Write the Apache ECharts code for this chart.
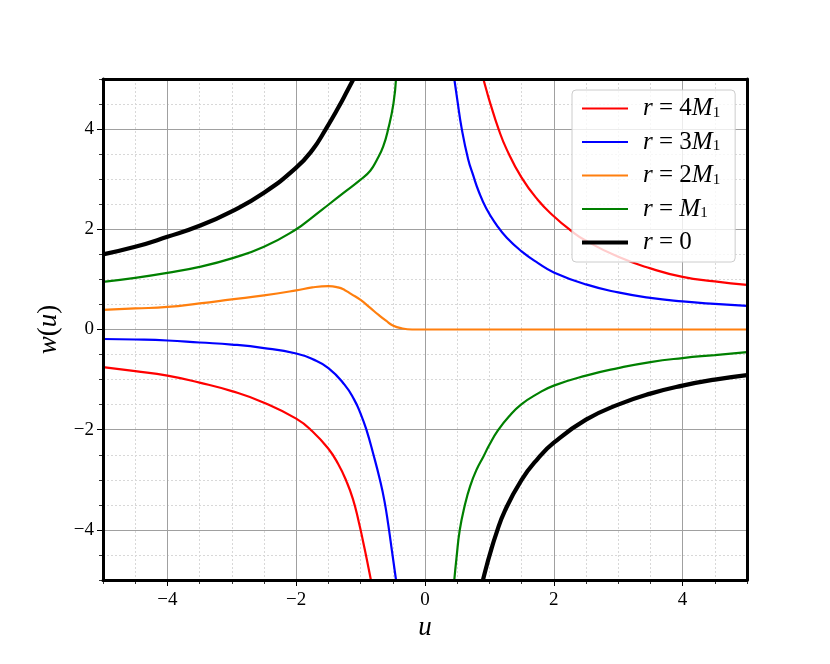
<!DOCTYPE html>
<html><head><meta charset="utf-8">
<script src="https://cdn.jsdelivr.net/npm/echarts@6/dist/echarts.min.js"></script>
<style>html,body{margin:0;padding:0;background:#fff}#c{width:830px;height:664px}</style>
</head><body><div id="c"></div>
<script>
// ---- data ----
const xMajorTicks = [-4, -2, 0, 2, 4];
const yMajorTicks = [-4, -2, 0, 2, 4];

// r = 4M1 (red)
const red_left = [[-5,-0.75],[-4.5,-0.83],[-4,-0.92],[-3.5,-1.06],[-3,-1.23],[-2.5,-1.46],[-2,-1.78],[-1.75,-2.03],[-1.5,-2.38],[-1.35,-2.68],[-1.22,-3.03],[-1.12,-3.38],[-1.03,-3.83],[-0.96,-4.24],[-0.9,-4.61],[-0.84,-5]];
const red_right = [[0.906,5],[0.96,4.75],[1.01,4.53],[1.14,4.01],[1.27,3.59],[1.5,3.03],[1.75,2.59],[2,2.26],[2.25,1.99],[2.5,1.77],[3,1.45],[3.5,1.22],[4,1.05],[4.5,0.96],[5,0.89]];
// r = 3M1 (blue)
const blue_left = [[-5,-0.19],[-4.5,-0.2],[-4,-0.22],[-3.5,-0.26],[-3,-0.3],[-2.5,-0.37],[-2,-0.48],[-1.75,-0.59],[-1.5,-0.77],[-1.25,-1.1],[-1.1,-1.4],[-1,-1.68],[-0.91,-2.0],[-0.8,-2.5],[-0.7,-3.0],[-0.63,-3.42],[-0.57,-3.9],[-0.51,-4.45],[-0.45,-5]];
const blue_right = [[0.455,5],[0.5,4.6],[0.57,4.01],[0.67,3.4],[0.75,3.07],[0.83,2.77],[0.95,2.42],[1.11,2.09],[1.27,1.83],[1.5,1.56],[1.75,1.33],[2,1.14],[2.5,0.9],[3,0.74],[3.5,0.63],[4,0.56],[4.5,0.51],[5,0.47]];
// r = 2M1 (orange)
const orange_all = [[-5,0.39],[-4.5,0.42],[-4,0.45],[-3.5,0.52],[-3,0.6],[-2.5,0.68],[-2,0.78],[-1.75,0.84],[-1.5,0.865],[-1.35,0.84],[-1.25,0.79],[-1.15,0.71],[-1,0.59],[-0.85,0.43],[-0.72,0.29],[-0.6,0.17],[-0.5,0.08],[-0.35,0.02],[-0.2,0],[0,0],[2,0],[5,0]];
// r = M1 (green)
const green_left = [[-5,0.95],[-4.5,1.03],[-4,1.13],[-3.5,1.25],[-3,1.42],[-2.5,1.65],[-2,2.0],[-1.75,2.24],[-1.5,2.49],[-1.25,2.74],[-1,2.99],[-0.85,3.17],[-0.75,3.38],[-0.65,3.65],[-0.57,4.01],[-0.49,4.51],[-0.45,5]];
const green_right = [[0.455,-5],[0.49,-4.55],[0.54,-4.0],[0.62,-3.5],[0.7,-3.13],[0.8,-2.8],[0.91,-2.53],[1.0,-2.3],[1.14,-2.0],[1.3,-1.74],[1.5,-1.49],[1.75,-1.28],[2,-1.12],[2.5,-0.92],[3,-0.77],[3.5,-0.65],[4,-0.57],[4.5,-0.51],[5,-0.45]];
// r = 0 (black)
const black_left = [[-5,1.5],[-4.5,1.65],[-4,1.85],[-3.5,2.07],[-3,2.36],[-2.5,2.73],[-2,3.23],[-1.75,3.58],[-1.54,4.0],[-1.35,4.42],[-1.2,4.78],[-1.11,5]];
const black_right = [[0.9,-5],[0.95,-4.75],[1.0,-4.52],[1.1,-4.1],[1.24,-3.62],[1.5,-3.0],[1.75,-2.58],[2,-2.26],[2.5,-1.8],[3,-1.5],[3.5,-1.28],[4,-1.12],[4.5,-1.0],[5,-0.91]];

const legendNames = ['r4', 'r3', 'r2', 'r1', 'r0'];
const legendLabels = {
  r4: '{g| }{i|r}{n| = 4}{i|M}{s|1}',
  r3: '{g| }{i|r}{n| = 3}{i|M}{s|1}',
  r2: '{g| }{i|r}{n| = 2}{i|M}{s|1}',
  r1: '{g| }{i|r}{n| = }{i|M}{s|1}',
  r0: '{g| }{i|r}{n| = 0}'
};

// ---- chart ----
const SERIF = '"Liberation Serif", "DejaVu Serif", serif';
const fmt = v => (v < 0 ? '\u2212' + (-v) : String(v));
const ICON_THIN = 'path://M0,0h46v2h-46z';
const ICON_THICK = 'path://M0,0h46v4h-46z';

function line(name, data, color, width) {
  return {
    type: 'line', name, data, xAxisIndex: 0, yAxisIndex: 0,
    showSymbol: false, symbol: 'none', smooth: 0.5,
    clip: true, animation: false, silent: true,
    lineStyle: { color, width, cap: 'butt', join: 'round' }, itemStyle: { color },
    emphasis: { disabled: true }, z: 3
  };
}

const frameLine = { show: true, onZero: false, lineStyle: { color: '#000', width: 3 } };
const off = { show: false };

const option = {
  animation: false,
  backgroundColor: '#fff',
  grid: { left: 103, right: 83, top: 79, bottom: 84, containLabel: false },
  xAxis: [
    { type: 'value', min: -5, max: 5, position: 'bottom', z: 1,
      axisLine: { show: false, onZero: false },
      axisTick: { show: true, customValues: xMajorTicks, length: 6, lineStyle: { color: '#000', width: 1 } },
      axisLabel: { customValues: xMajorTicks, formatter: fmt, fontFamily: SERIF, fontSize: 19, color: '#000', margin: 11 },
      splitLine: { show: true, lineStyle: { color: '#a0a0a0', width: 1 } },
      name: '{i|u}', nameLocation: 'middle', nameGap: 32,
      nameTextStyle: { rich: { i: { fontFamily: SERIF, fontStyle: 'italic', fontSize: 27, color: '#000' } } }
    },
    { type: 'value', min: -5, max: 5, interval: 0.5, position: 'bottom', z: 0,
      axisLine: { show: false, onZero: false },
      axisTick: { show: true, length: 4, lineStyle: { color: '#000', width: 0.8 } },
      axisLabel: off,
      splitLine: { show: true, lineStyle: { color: '#d8d8d8', width: 1, type: [2, 2] } }
    },
    { type: 'value', min: -5, max: 5, position: 'top', z: 6,
      axisLine: frameLine, axisTick: off, axisLabel: off, splitLine: off },
    { type: 'value', min: -5, max: 5, position: 'bottom', z: 6,
      axisLine: frameLine, axisTick: off, axisLabel: off, splitLine: off }
  ],
  yAxis: [
    { type: 'value', min: -5, max: 5, position: 'left', z: 1,
      axisLine: { show: false, onZero: false },
      axisTick: { show: true, customValues: yMajorTicks, length: 6, lineStyle: { color: '#000', width: 1 } },
      axisLabel: { customValues: yMajorTicks, formatter: fmt, fontFamily: SERIF, fontSize: 19, color: '#000', margin: 9 },
      splitLine: { show: true, lineStyle: { color: '#a0a0a0', width: 1 } },
      name: '{i|w}{n|(}{i|u}{n|)}', nameLocation: 'middle', nameGap: 40, nameRotate: 90,
      nameTextStyle: { rich: {
        i: { fontFamily: SERIF, fontStyle: 'italic', fontSize: 27, color: '#000' },
        n: { fontFamily: SERIF, fontSize: 27, color: '#000' } } }
    },
    { type: 'value', min: -5, max: 5, interval: 0.5, position: 'left', z: 0,
      axisLine: { show: false, onZero: false },
      axisTick: { show: true, length: 4, lineStyle: { color: '#000', width: 0.8 } },
      axisLabel: off,
      splitLine: { show: true, lineStyle: { color: '#d8d8d8', width: 1, type: [2, 2] } }
    },
    { type: 'value', min: -5, max: 5, position: 'right', z: 6,
      axisLine: frameLine, axisTick: off, axisLabel: off, splitLine: off },
    { type: 'value', min: -5, max: 5, position: 'left', z: 6,
      axisLine: frameLine, axisTick: off, axisLabel: off, splitLine: off }
  ],
  legend: {
    data: legendNames.map(n => ({ name: n, icon: n === 'r0' ? ICON_THICK : ICON_THIN })),
    orient: 'vertical', left: 572, top: 90,
    padding: [6, 15, 7, 10], itemWidth: 46, itemHeight: 24, itemGap: 8.5,
    backgroundColor: 'rgba(255,255,255,0.8)', borderColor: '#cccccc', borderWidth: 1, borderRadius: 4,
    selectedMode: false, z: 10,
    formatter: n => legendLabels[n],
    textStyle: { rich: {
      g: { width: 10, fontSize: 10, lineHeight: 24 },
      i: { fontFamily: SERIF, fontStyle: 'italic', fontSize: 25, lineHeight: 24, color: '#000' },
      n: { fontFamily: SERIF, fontSize: 25, lineHeight: 24, color: '#000' },
      s: { fontFamily: SERIF, fontSize: 15, lineHeight: 15, padding: [9, 0, 0, 0], color: '#000' }
    } }
  },
  series: [
    line('r4', red_left, '#ff0000', 2.2),
    line('r4', red_right, '#ff0000', 2.2),
    line('r3', blue_left, '#0000ff', 2.2),
    line('r3', blue_right, '#0000ff', 2.2),
    line('r2', orange_all, '#ff7f0e', 2.2),
    line('r1', green_left, '#008000', 2.2),
    line('r1', green_right, '#008000', 2.2),
    line('r0', black_left, '#000000', 4.2),
    line('r0', black_right, '#000000', 4.2)
  ]
};

const chart = echarts.init(document.getElementById('c'), null, { renderer: 'canvas' });
chart.setOption(option);
</script>
</body></html>
